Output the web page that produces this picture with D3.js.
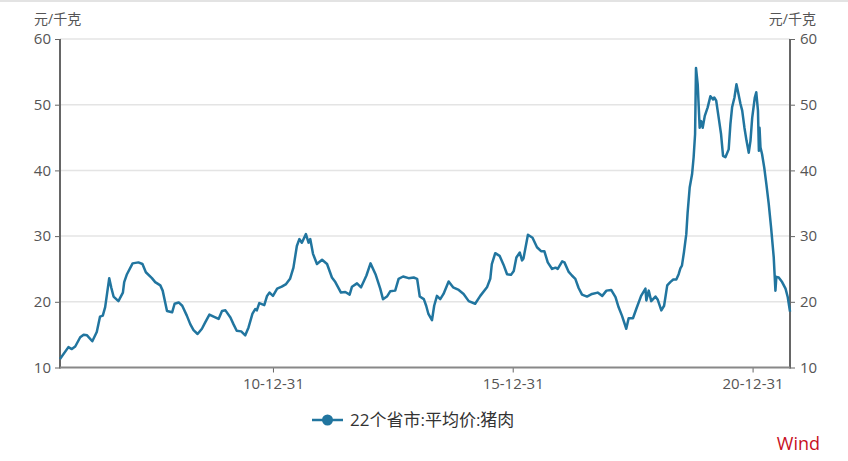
<!DOCTYPE html>
<html><head><meta charset="utf-8">
<script src="https://cdn.jsdelivr.net/npm/d3@7/dist/d3.min.js"></script>
<style>
html,body{margin:0;padding:0;background:#fff;}
svg{display:block;}
text{font-family:"Open Sans","Noto Sans CJK SC",sans-serif;}
</style></head>
<body>
<svg id="chart" width="848" height="461"></svg>
<script>
// ---- data ----
const seriesName = "22个省市:平均价:猪肉";
const unitLabel = "元/千克";
const sourceLabel = "Wind";
const dates = [
"2006-07-23","2006-09-25","2006-10-21","2006-11-16","2006-12-24","2007-01-19","2007-02-14","2007-03-26","2007-04-29","2007-05-24",
"2007-06-14","2007-07-02","2007-08-02","2007-08-17","2007-09-04","2007-10-11","2007-11-14","2007-11-24","2007-12-15","2008-01-27",
"2008-03-11","2008-04-11","2008-05-07","2008-06-22","2008-07-17","2008-08-25","2008-09-12","2008-10-15","2008-11-23","2008-12-12",
"2009-01-12","2009-02-08","2009-03-15","2009-04-10","2009-05-05","2009-06-05","2009-07-08","2009-08-03","2009-09-03","2009-10-05",
"2009-11-12","2009-12-08","2010-01-03","2010-02-10","2010-03-05","2010-03-30","2010-05-03","2010-06-03","2010-06-28","2010-07-28",
"2010-08-18","2010-08-30","2010-09-18","2010-10-26","2010-11-16","2010-12-05","2010-12-31","2011-02-01","2011-03-08","2011-04-10",
"2011-05-10","2011-06-05","2011-07-01","2011-07-20","2011-08-08","2011-09-08","2011-09-28","2011-10-11","2011-11-01","2011-12-01",
"2012-01-09","2012-02-16","2012-03-24","2012-04-19","2012-06-01","2012-07-04","2012-08-06","2012-08-24","2012-10-01","2012-11-01",
"2012-12-12","2013-01-12","2013-02-19","2013-03-27","2013-04-17","2013-05-17","2013-06-11","2013-07-19","2013-08-14","2013-09-17",
"2013-10-29","2013-12-07","2014-01-02","2014-01-22","2014-02-22","2014-03-12","2014-03-29","2014-04-25","2014-05-12","2014-06-02",
"2014-06-27","2014-07-22","2014-08-30","2014-10-03","2014-11-15","2014-12-22","2015-01-30","2015-03-20","2015-04-28","2015-06-18",
"2015-07-13","2015-07-25","2015-08-20","2015-09-22","2015-10-22","2015-11-18","2015-12-18","2016-01-08","2016-01-28","2016-02-23",
"2016-03-11","2016-03-22","2016-04-25","2016-05-30","2016-07-03","2016-08-03","2016-08-28","2016-09-23","2016-10-26","2016-11-21",
"2016-12-08","2017-01-11","2017-01-28","2017-02-28","2017-03-26","2017-04-21","2017-05-16","2017-06-11","2017-07-19","2017-08-26",
"2017-10-08","2017-11-12","2017-12-14","2018-01-19","2018-02-21","2018-03-16","2018-04-11","2018-05-14","2018-06-01","2018-07-04",
"2018-07-29","2018-09-04","2018-10-07","2018-10-14","2018-11-01","2018-11-20","2018-12-22","2019-01-09","2019-02-05","2019-02-26",
"2019-03-22","2019-04-14","2019-05-07","2019-05-30","2019-06-17","2019-06-30","2019-07-12","2019-07-27","2019-08-14","2019-08-24",
"2019-09-09","2019-09-27","2019-10-09","2019-10-20","2019-10-27","2019-11-09","2019-11-24","2019-12-05","2019-12-17","2020-01-02",
"2020-01-24","2020-02-14","2020-03-05","2020-03-14","2020-03-29","2020-04-17","2020-05-05","2020-05-20","2020-06-07","2020-07-02",
"2020-07-15","2020-07-28","2020-08-15","2020-08-30","2020-09-10","2020-09-30","2020-10-13","2020-10-30","2020-11-15","2020-12-02",
"2020-12-15","2020-12-28","2021-01-17","2021-01-28","2021-02-10","2021-02-17","2021-02-22","2021-03-01","2021-03-13","2021-03-30",
"2021-04-15","2021-05-03","2021-05-21","2021-06-10","2021-06-23","2021-06-30","2021-07-18","2021-08-13","2021-09-08","2021-09-25",
"2021-10-12"
];
const prices = [
11.3,13.1,12.8,13.2,14.6,15.0,14.9,14.0,15.4,17.75,
17.9,19.2,23.6,22.2,20.8,20.1,21.4,23.0,24.2,25.85,
26.0,25.75,24.5,23.6,23.0,22.5,21.7,18.6,18.4,19.7,
19.9,19.4,17.9,16.6,15.7,15.1,15.9,16.9,18.05,17.75,
17.4,18.6,18.7,17.6,16.6,15.6,15.5,14.9,16.1,18.2,
18.9,18.7,19.8,19.5,20.9,21.4,20.9,22.0,22.3,22.7,
23.5,25.2,28.5,29.55,29.0,30.3,29.0,29.55,27.3,25.75,
26.4,25.75,23.7,23.0,21.4,21.5,21.1,22.3,22.8,22.2,
24.0,25.85,24.2,22.0,20.4,20.8,21.6,21.7,23.5,23.85,
23.6,23.7,23.5,20.8,20.4,19.4,18.15,17.2,19.4,20.9,
20.4,21.2,23.1,22.2,21.8,21.2,20.1,19.7,20.9,22.2,
23.5,25.75,27.4,27.0,25.65,24.2,24.1,24.7,26.75,27.5,
26.3,26.6,30.2,29.75,28.3,27.7,27.7,26.0,25.0,25.2,
25.0,26.15,26.0,24.6,24.0,23.5,22.1,21.1,20.8,21.2,
21.4,20.9,21.7,21.8,20.7,19.2,17.9,15.9,17.5,17.5,
18.9,20.9,22.0,20.2,21.7,20.1,20.8,20.3,18.7,19.4,
22.5,23.0,23.4,23.4,24.2,25.1,25.5,27.5,30.3,33.5,
37.4,39.4,42.0,45.5,55.6,53.1,46.5,47.5,46.5,48.3,
49.6,51.3,50.8,51.1,50.6,48.0,45.5,42.2,42.0,43.2,
47.0,49.6,51.1,53.1,52.1,50.1,49.1,46.5,44.5,42.7,
44.5,48.0,51.1,51.9,49.1,43.0,46.5,43.5,42.5,40.4,
37.9,34.9,31.3,26.8,21.7,23.8,23.7,23.0,22.0,20.7,
18.5
];
const yTicks = [10,20,30,40,50,60];
const xTickDates = ["2010-12-31","2015-12-31","2020-12-31"];

// ---- chart ----
const parse = d3.timeParse("%Y-%m-%d");
const data = dates.map((d,i)=>({date:parse(d), value:prices[i]}));
const svg = d3.select("#chart");
const L = 60, R = 790, T = 39, B = 367.5;
const lineColor = "#21759f";

const x = d3.scaleTime().domain(d3.extent(data,d=>d.date)).range([L,R]);
const y = d3.scaleLinear().domain([10,60]).range([B,T]);

// top border
svg.append("rect").attr("x",0).attr("y",0).attr("width",848).attr("height",2).attr("fill","#e3e3e3");

// grid
svg.append("g").selectAll("line").data(yTicks.filter(t=>t>10)).join("line")
  .attr("x1",L).attr("x2",R).attr("y1",d=>y(d)).attr("y2",d=>y(d))
  .attr("stroke","#e4e4e4").attr("stroke-width",1.5);

// axes
const axisStyle = g=>{
  g.select(".domain").remove();
  g.selectAll(".tick line").attr("stroke","#666").attr("stroke-width",1);
  g.selectAll(".tick text").attr("fill","#555").style("font-size","15px");
};
svg.append("g").attr("transform",`translate(${L},0)`)
  .call(d3.axisLeft(y).tickValues(yTicks).tickSize(5).tickPadding(4))
  .call(axisStyle);
svg.append("g").attr("transform",`translate(${R},0)`)
  .call(d3.axisRight(y).tickValues(yTicks).tickSize(5).tickPadding(5))
  .call(axisStyle);
svg.append("g").attr("transform",`translate(0,${B})`)
  .call(d3.axisBottom(x).tickValues(xTickDates.map(parse)).tickFormat(d3.timeFormat("%y-%m-%d")).tickSize(5).tickPadding(6))
  .call(axisStyle);

// axis lines
svg.append("line").attr("x1",L).attr("x2",L).attr("y1",T).attr("y2",B+1).attr("stroke","#666").attr("stroke-width",2);
svg.append("line").attr("x1",R).attr("x2",R).attr("y1",T).attr("y2",B+1).attr("stroke","#666").attr("stroke-width",2);
svg.append("line").attr("x1",L).attr("x2",R).attr("y1",B).attr("y2",B).attr("stroke","#888").attr("stroke-width",2);

// unit labels
svg.append("text").attr("x",34).attr("y",24).attr("fill","#555").style("font-size","14px").text(unitLabel);
svg.append("text").attr("x",816).attr("y",24).attr("text-anchor","end").attr("fill","#555").style("font-size","14px").text(unitLabel);

// line
const line = d3.line().x(d=>x(d.date)).y(d=>y(d.value)).curve(d3.curveLinear);
svg.append("path").datum(data).attr("d",line).attr("fill","none")
  .attr("stroke",lineColor).attr("stroke-width",2.5).attr("stroke-linejoin","round");

// legend
const lg = svg.append("g").attr("transform","translate(312,420)");
lg.append("line").attr("x1",0).attr("x2",31).attr("y1",0).attr("y2",0).attr("stroke",lineColor).attr("stroke-width",2.5);
lg.append("circle").attr("cx",15.5).attr("cy",0).attr("r",5.5).attr("fill",lineColor);
lg.append("text").attr("x",38).attr("y",0).attr("dy","0.35em").attr("fill","#333").style("font-size","17px").text(seriesName);

// source
svg.append("text").attr("x",820).attr("y",450).attr("text-anchor","end").attr("fill","#c8101e").style("font-size","18px").text(sourceLabel);
</script>
</body></html>
